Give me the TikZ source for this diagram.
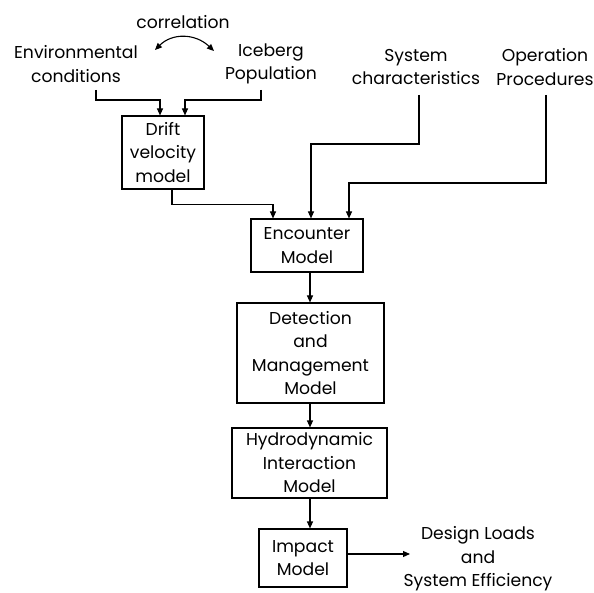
\documentclass[tikz,border=0pt]{standalone}
\usepackage{fontspec}
\setmainfont{Poppins}
\usetikzlibrary{arrows.meta}
\begin{document}
\begin{tikzpicture}[x=1pt,y=-1pt,
  every node/.style={font=\fontsize{17.2}{23.5}\selectfont, align=center, inner sep=0pt},
  box/.style={draw, line width=1.1pt},
  arr/.style={line width=1.1pt, -{Triangle[length=7pt,width=6pt]}},
  darr/.style={line width=1.1pt, {Triangle[length=7pt,width=6pt]}-{Triangle[length=7pt,width=6pt]}}]
\useasboundingbox (0,0) rectangle (594,593);
% texts
\node (corr) at (183,22) {correlation};
\node (env) at (76,64) {Environmental\\conditions};
\node (ice) at (271,64) {Iceberg\\Population};
\node (sys) at (416,67) {System\\characteristics};
\node (ops) at (545,67) {Operation\\Procedures};
% boxes
\node[box, minimum width=82pt, minimum height=73pt] (drift) at (163,152.5) {Drift\\velocity\\model};
\node[box, minimum width=112pt, minimum height=53pt] (enc) at (307,245.5) {Encounter\\Model};
\node[box, minimum width=147pt, minimum height=100pt] (det) at (310.5,353) {Detection\\and\\Management\\Model};
\node[box, minimum width=155pt, minimum height=70pt] (hyd) at (309.5,463) {Hydrodynamic\\Interaction\\Model};
\node[box, minimum width=88pt, minimum height=58pt] (imp) at (303,558) {Impact\\Model};
\node (out) at (478,559) {Design Loads\\and\\System Efficiency};
% coordinates
\coordinate (corrL) at (155,50);
\coordinate (corrR) at (214,51);
\coordinate (envout) at (96,90);
\coordinate (iceout) at (261,90);
\coordinate (sysout) at (419,95);
\coordinate (opsout) at (546,95);
\coordinate (spine) at (310,0);
\coordinate (outin) at (410,554);
% connectors
\draw[darr] (corrL) .. controls (172,33) and (195,33) .. (corrR);
\draw[arr] (envout) -- ++(0,10) -| ([xshift=-3pt]drift.north);
\draw[arr] (iceout) -- ++(0,10) -| ([xshift=22pt]drift.north);
\draw[arr] ([xshift=9pt]drift.south) -- ++(0,15) -| ([xshift=-34pt]enc.north);
\draw[arr] (sysout) -- (419,144) -| (enc.north -| 311,0);
\draw[arr] (opsout) -- (546,183) -| (enc.north -| 349,0);
\draw[arr] (enc.south -| spine) -- (det.north -| spine);
\draw[arr] (det.south -| spine) -- (hyd.north -| spine);
\draw[arr] (hyd.south -| spine) -- (imp.north -| spine);
\draw[arr] (imp.east |- outin) -- (outin);
\end{tikzpicture}
\end{document}
